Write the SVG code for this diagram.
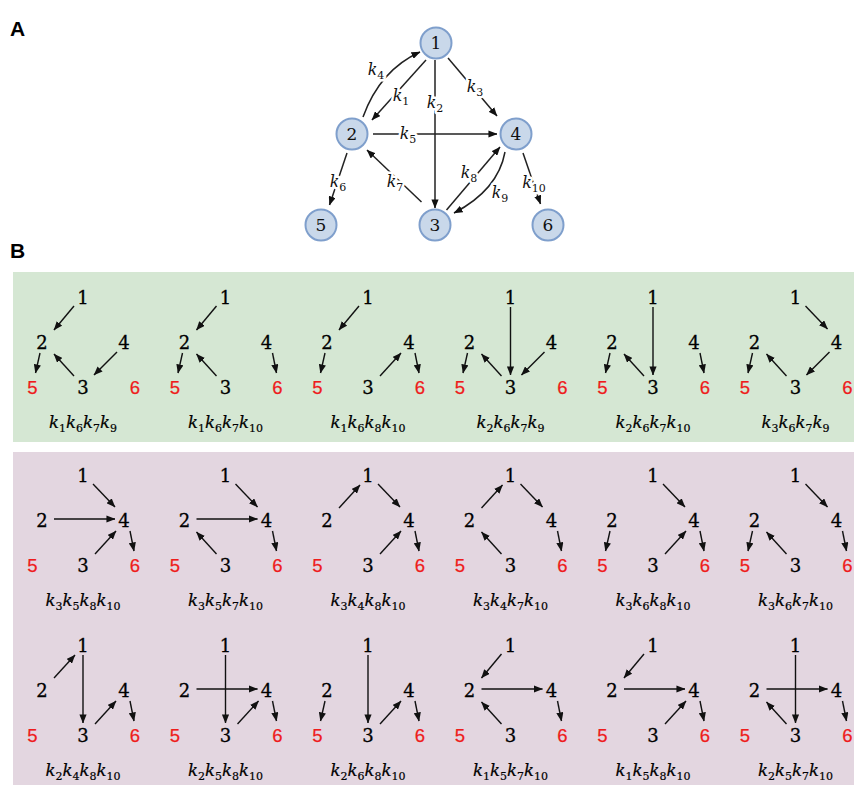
<svg xmlns="http://www.w3.org/2000/svg" width="854" height="785" viewBox="0 0 854 785">
<defs>
<marker id="ah" viewBox="0 0 10 8" refX="9.5" refY="4" markerWidth="9" markerHeight="7.2" markerUnits="userSpaceOnUse" orient="auto"><path d="M0,0 L10,4 L0,8 z" fill="#111"/></marker>
<style>
.n{font-family:"DejaVu Serif","Liberation Serif",serif;font-size:18px;text-anchor:middle;fill:#000;stroke:#000;stroke-width:0.3}
.r{font-family:"Liberation Sans",sans-serif;font-size:18.5px;text-anchor:middle;fill:#ee1c1c;stroke:#ee1c1c;stroke-width:0.25}
.k{font-family:"DejaVu Serif","Liberation Serif",serif;font-style:italic;font-size:16.5px;text-anchor:middle;fill:#000;stroke:#000;stroke-width:0.2}
.k .s{font-style:normal;font-size:11px}
.ka{font-family:"DejaVu Serif","Liberation Serif",serif;font-style:italic;font-size:16px;text-anchor:middle;fill:#111;stroke:#fff;stroke-width:5;paint-order:stroke;stroke-linejoin:round}
.ka .s{font-style:normal;font-size:11px}
.e{stroke:#111;stroke-width:1.4;fill:none;marker-end:url(#ah)}
.ea{stroke:#222;stroke-width:1.5;fill:none;marker-end:url(#ah)}
.c{fill:#c9d8ea;stroke:#7f9fcc;stroke-width:2}
.cn{font-family:"DejaVu Serif","Liberation Serif",serif;font-size:17px;text-anchor:middle;fill:#111}
.p{font-family:"Liberation Sans",sans-serif;font-weight:bold;font-size:21px;fill:#000}
</style>
</defs>
<rect width="854" height="785" fill="#fff"/>
<text class="p" x="10" y="36">A</text>
<text class="p" x="10" y="258">B</text>

<!-- Panel A connectors -->
<g id="edges-a">
<path class="ea" d="M363,117 Q380,70 420,52"/>
<line class="ea" x1="426" y1="60" x2="372" y2="120"/>
<line class="ea" x1="435" y1="60" x2="435" y2="208"/>
<line class="ea" x1="448" y1="58" x2="497" y2="116"/>
<line class="ea" x1="373" y1="134" x2="497" y2="134"/>
<line class="ea" x1="347" y1="153" x2="329.5" y2="205"/>
<line class="ea" x1="421.5" y1="202" x2="367" y2="150"/>
<line class="ea" x1="446.5" y1="210" x2="500" y2="147"/>
<path class="ea" d="M505,152 Q498,190 454,213"/>
<line class="ea" x1="523" y1="153" x2="540.5" y2="204"/>
<text class="ka" x="376" y="75">k<tspan class="s" dy="3.5">4</tspan></text>
<text class="ka" x="401" y="101">k<tspan class="s" dy="3.5">1</tspan></text>
<text class="ka" x="435" y="108">k<tspan class="s" dy="3.5">2</tspan></text>
<text class="ka" x="475" y="92">k<tspan class="s" dy="3.5">3</tspan></text>
<text class="ka" x="408" y="139">k<tspan class="s" dy="3.5">5</tspan></text>
<text class="ka" x="338" y="187">k<tspan class="s" dy="3.5">6</tspan></text>
<text class="ka" x="395" y="187">k<tspan class="s" dy="3.5">7</tspan></text>
<text class="ka" x="469" y="178">k<tspan class="s" dy="3.5">8</tspan></text>
<text class="ka" x="500" y="198">k<tspan class="s" dy="3.5">9</tspan></text>
<text class="ka" x="534" y="188">k<tspan class="s" dy="3.5">10</tspan></text>
</g>

<!-- Panel A nodes -->
<g id="node-1"><circle class="c" cx="436" cy="43" r="15.5"/><text class="cn" x="436" y="49">1</text></g>
<g id="node-2"><circle class="c" cx="352" cy="134" r="15.5"/><text class="cn" x="352" y="140">2</text></g>
<g id="node-4"><circle class="c" cx="516" cy="134" r="15.5"/><text class="cn" x="516" y="140">4</text></g>
<g id="node-5"><circle class="c" cx="321" cy="225" r="15.5"/><text class="cn" x="321" y="231">5</text></g>
<g id="node-3"><circle class="c" cx="435" cy="225" r="15.5"/><text class="cn" x="435" y="231">3</text></g>
<g id="node-6"><circle class="c" cx="548" cy="225" r="15.5"/><text class="cn" x="548" y="231">6</text></g>

<!-- Panel B backgrounds -->
<rect x="13" y="272" width="841" height="170" fill="#d5e7d3"/>
<rect x="13" y="452" width="841" height="333" fill="#e3d6e0"/>

<!-- Row 1 -->
<g id="b-r1c1" transform="translate(83,297)">
<g class="edges"><line class="e" x1="-9" y1="9" x2="-29" y2="33"/><line class="e" x1="-43" y1="56" x2="-47.5" y2="76"/><line class="e" x1="-9" y1="79" x2="-29" y2="57"/><line class="e" x1="34" y1="55" x2="11" y2="78"/></g>
<text class="n" x="0" y="6.5">1</text><text class="n" x="-41" y="51.5">2</text><text class="n" x="41" y="51.5">4</text><text class="n" x="0" y="96.5">3</text><text class="r" x="-50.5" y="96.5">5</text><text class="r" x="52" y="96.5">6</text>
<text class="k" x="0" y="131">k<tspan class="s" dy="4">1</tspan><tspan dy="-4">k</tspan><tspan class="s" dy="4">6</tspan><tspan dy="-4">k</tspan><tspan class="s" dy="4">7</tspan><tspan dy="-4">k</tspan><tspan class="s" dy="4">9</tspan></text>
</g>
<g id="b-r1c2" transform="translate(225.5,297)">
<g class="edges"><line class="e" x1="-9" y1="9" x2="-29" y2="33"/><line class="e" x1="-43" y1="56" x2="-47.5" y2="76"/><line class="e" x1="-9" y1="79" x2="-29" y2="57"/><line class="e" x1="47" y1="56" x2="51" y2="76"/></g>
<text class="n" x="0" y="6.5">1</text><text class="n" x="-41" y="51.5">2</text><text class="n" x="41" y="51.5">4</text><text class="n" x="0" y="96.5">3</text><text class="r" x="-50.5" y="96.5">5</text><text class="r" x="52" y="96.5">6</text>
<text class="k" x="0" y="131">k<tspan class="s" dy="4">1</tspan><tspan dy="-4">k</tspan><tspan class="s" dy="4">6</tspan><tspan dy="-4">k</tspan><tspan class="s" dy="4">7</tspan><tspan dy="-4">k</tspan><tspan class="s" dy="4">10</tspan></text>
</g>
<g id="b-r1c3" transform="translate(368,297)">
<g class="edges"><line class="e" x1="-9" y1="9" x2="-29" y2="33"/><line class="e" x1="-43" y1="56" x2="-47.5" y2="76"/><line class="e" x1="12" y1="79" x2="33" y2="56"/><line class="e" x1="47" y1="56" x2="51" y2="76"/></g>
<text class="n" x="0" y="6.5">1</text><text class="n" x="-41" y="51.5">2</text><text class="n" x="41" y="51.5">4</text><text class="n" x="0" y="96.5">3</text><text class="r" x="-50.5" y="96.5">5</text><text class="r" x="52" y="96.5">6</text>
<text class="k" x="0" y="131">k<tspan class="s" dy="4">1</tspan><tspan dy="-4">k</tspan><tspan class="s" dy="4">6</tspan><tspan dy="-4">k</tspan><tspan class="s" dy="4">8</tspan><tspan dy="-4">k</tspan><tspan class="s" dy="4">10</tspan></text>
</g>
<g id="b-r1c4" transform="translate(510.5,297)">
<g class="edges"><line class="e" x1="0" y1="10" x2="0" y2="78"/><line class="e" x1="-43" y1="56" x2="-47.5" y2="76"/><line class="e" x1="-9" y1="79" x2="-29" y2="57"/><line class="e" x1="34" y1="55" x2="11" y2="78"/></g>
<text class="n" x="0" y="6.5">1</text><text class="n" x="-41" y="51.5">2</text><text class="n" x="41" y="51.5">4</text><text class="n" x="0" y="96.5">3</text><text class="r" x="-50.5" y="96.5">5</text><text class="r" x="52" y="96.5">6</text>
<text class="k" x="0" y="131">k<tspan class="s" dy="4">2</tspan><tspan dy="-4">k</tspan><tspan class="s" dy="4">6</tspan><tspan dy="-4">k</tspan><tspan class="s" dy="4">7</tspan><tspan dy="-4">k</tspan><tspan class="s" dy="4">9</tspan></text>
</g>
<g id="b-r1c5" transform="translate(653,297)">
<g class="edges"><line class="e" x1="0" y1="10" x2="0" y2="78"/><line class="e" x1="-43" y1="56" x2="-47.5" y2="76"/><line class="e" x1="-9" y1="79" x2="-29" y2="57"/><line class="e" x1="47" y1="56" x2="51" y2="76"/></g>
<text class="n" x="0" y="6.5">1</text><text class="n" x="-41" y="51.5">2</text><text class="n" x="41" y="51.5">4</text><text class="n" x="0" y="96.5">3</text><text class="r" x="-50.5" y="96.5">5</text><text class="r" x="52" y="96.5">6</text>
<text class="k" x="0" y="131">k<tspan class="s" dy="4">2</tspan><tspan dy="-4">k</tspan><tspan class="s" dy="4">6</tspan><tspan dy="-4">k</tspan><tspan class="s" dy="4">7</tspan><tspan dy="-4">k</tspan><tspan class="s" dy="4">10</tspan></text>
</g>
<g id="b-r1c6" transform="translate(795.5,297)">
<g class="edges"><line class="e" x1="10" y1="9" x2="32" y2="32"/><line class="e" x1="-43" y1="56" x2="-47.5" y2="76"/><line class="e" x1="-9" y1="79" x2="-29" y2="57"/><line class="e" x1="34" y1="55" x2="11" y2="78"/></g>
<text class="n" x="0" y="6.5">1</text><text class="n" x="-41" y="51.5">2</text><text class="n" x="41" y="51.5">4</text><text class="n" x="0" y="96.5">3</text><text class="r" x="-50.5" y="96.5">5</text><text class="r" x="52" y="96.5">6</text>
<text class="k" x="0" y="131">k<tspan class="s" dy="4">3</tspan><tspan dy="-4">k</tspan><tspan class="s" dy="4">6</tspan><tspan dy="-4">k</tspan><tspan class="s" dy="4">7</tspan><tspan dy="-4">k</tspan><tspan class="s" dy="4">9</tspan></text>
</g>

<!-- Row 2 -->
<g id="b-r2c1" transform="translate(83,475)">
<g class="edges"><line class="e" x1="10" y1="9" x2="32" y2="32"/><line class="e" x1="-29" y1="44" x2="32" y2="44"/><line class="e" x1="12" y1="79" x2="33" y2="56"/><line class="e" x1="47" y1="56" x2="51" y2="76"/></g>
<text class="n" x="0" y="6.5">1</text><text class="n" x="-41" y="51.5">2</text><text class="n" x="41" y="51.5">4</text><text class="n" x="0" y="96.5">3</text><text class="r" x="-50.5" y="96.5">5</text><text class="r" x="52" y="96.5">6</text>
<text class="k" x="0" y="131">k<tspan class="s" dy="4">3</tspan><tspan dy="-4">k</tspan><tspan class="s" dy="4">5</tspan><tspan dy="-4">k</tspan><tspan class="s" dy="4">8</tspan><tspan dy="-4">k</tspan><tspan class="s" dy="4">10</tspan></text>
</g>
<g id="b-r2c2" transform="translate(225.5,475)">
<g class="edges"><line class="e" x1="10" y1="9" x2="32" y2="32"/><line class="e" x1="-29" y1="44" x2="32" y2="44"/><line class="e" x1="-9" y1="79" x2="-29" y2="57"/><line class="e" x1="47" y1="56" x2="51" y2="76"/></g>
<text class="n" x="0" y="6.5">1</text><text class="n" x="-41" y="51.5">2</text><text class="n" x="41" y="51.5">4</text><text class="n" x="0" y="96.5">3</text><text class="r" x="-50.5" y="96.5">5</text><text class="r" x="52" y="96.5">6</text>
<text class="k" x="0" y="131">k<tspan class="s" dy="4">3</tspan><tspan dy="-4">k</tspan><tspan class="s" dy="4">5</tspan><tspan dy="-4">k</tspan><tspan class="s" dy="4">7</tspan><tspan dy="-4">k</tspan><tspan class="s" dy="4">10</tspan></text>
</g>
<g id="b-r2c3" transform="translate(368,475)">
<g class="edges"><line class="e" x1="-29" y1="33" x2="-8" y2="10"/><line class="e" x1="10" y1="9" x2="32" y2="32"/><line class="e" x1="12" y1="79" x2="33" y2="56"/><line class="e" x1="47" y1="56" x2="51" y2="76"/></g>
<text class="n" x="0" y="6.5">1</text><text class="n" x="-41" y="51.5">2</text><text class="n" x="41" y="51.5">4</text><text class="n" x="0" y="96.5">3</text><text class="r" x="-50.5" y="96.5">5</text><text class="r" x="52" y="96.5">6</text>
<text class="k" x="0" y="131">k<tspan class="s" dy="4">3</tspan><tspan dy="-4">k</tspan><tspan class="s" dy="4">4</tspan><tspan dy="-4">k</tspan><tspan class="s" dy="4">8</tspan><tspan dy="-4">k</tspan><tspan class="s" dy="4">10</tspan></text>
</g>
<g id="b-r2c4" transform="translate(510.5,475)">
<g class="edges"><line class="e" x1="-29" y1="33" x2="-8" y2="10"/><line class="e" x1="10" y1="9" x2="32" y2="32"/><line class="e" x1="-9" y1="79" x2="-29" y2="57"/><line class="e" x1="47" y1="56" x2="51" y2="76"/></g>
<text class="n" x="0" y="6.5">1</text><text class="n" x="-41" y="51.5">2</text><text class="n" x="41" y="51.5">4</text><text class="n" x="0" y="96.5">3</text><text class="r" x="-50.5" y="96.5">5</text><text class="r" x="52" y="96.5">6</text>
<text class="k" x="0" y="131">k<tspan class="s" dy="4">3</tspan><tspan dy="-4">k</tspan><tspan class="s" dy="4">4</tspan><tspan dy="-4">k</tspan><tspan class="s" dy="4">7</tspan><tspan dy="-4">k</tspan><tspan class="s" dy="4">10</tspan></text>
</g>
<g id="b-r2c5" transform="translate(653,475)">
<g class="edges"><line class="e" x1="10" y1="9" x2="32" y2="32"/><line class="e" x1="-43" y1="56" x2="-47.5" y2="76"/><line class="e" x1="12" y1="79" x2="33" y2="56"/><line class="e" x1="47" y1="56" x2="51" y2="76"/></g>
<text class="n" x="0" y="6.5">1</text><text class="n" x="-41" y="51.5">2</text><text class="n" x="41" y="51.5">4</text><text class="n" x="0" y="96.5">3</text><text class="r" x="-50.5" y="96.5">5</text><text class="r" x="52" y="96.5">6</text>
<text class="k" x="0" y="131">k<tspan class="s" dy="4">3</tspan><tspan dy="-4">k</tspan><tspan class="s" dy="4">6</tspan><tspan dy="-4">k</tspan><tspan class="s" dy="4">8</tspan><tspan dy="-4">k</tspan><tspan class="s" dy="4">10</tspan></text>
</g>
<g id="b-r2c6" transform="translate(795.5,475)">
<g class="edges"><line class="e" x1="10" y1="9" x2="32" y2="32"/><line class="e" x1="-43" y1="56" x2="-47.5" y2="76"/><line class="e" x1="-9" y1="79" x2="-29" y2="57"/><line class="e" x1="47" y1="56" x2="51" y2="76"/></g>
<text class="n" x="0" y="6.5">1</text><text class="n" x="-41" y="51.5">2</text><text class="n" x="41" y="51.5">4</text><text class="n" x="0" y="96.5">3</text><text class="r" x="-50.5" y="96.5">5</text><text class="r" x="52" y="96.5">6</text>
<text class="k" x="0" y="131">k<tspan class="s" dy="4">3</tspan><tspan dy="-4">k</tspan><tspan class="s" dy="4">6</tspan><tspan dy="-4">k</tspan><tspan class="s" dy="4">7</tspan><tspan dy="-4">k</tspan><tspan class="s" dy="4">10</tspan></text>
</g>

<!-- Row 3 -->
<g id="b-r3c1" transform="translate(83,645)">
<g class="edges"><line class="e" x1="-29" y1="33" x2="-8" y2="10"/><line class="e" x1="0" y1="10" x2="0" y2="78"/><line class="e" x1="12" y1="79" x2="33" y2="56"/><line class="e" x1="47" y1="56" x2="51" y2="76"/></g>
<text class="n" x="0" y="6.5">1</text><text class="n" x="-41" y="51.5">2</text><text class="n" x="41" y="51.5">4</text><text class="n" x="0" y="96.5">3</text><text class="r" x="-50.5" y="96.5">5</text><text class="r" x="52" y="96.5">6</text>
<text class="k" x="0" y="131">k<tspan class="s" dy="4">2</tspan><tspan dy="-4">k</tspan><tspan class="s" dy="4">4</tspan><tspan dy="-4">k</tspan><tspan class="s" dy="4">8</tspan><tspan dy="-4">k</tspan><tspan class="s" dy="4">10</tspan></text>
</g>
<g id="b-r3c2" transform="translate(225.5,645)">
<g class="edges"><line class="e" x1="0" y1="10" x2="0" y2="78"/><line class="e" x1="-29" y1="44" x2="32" y2="44"/><line class="e" x1="12" y1="79" x2="33" y2="56"/><line class="e" x1="47" y1="56" x2="51" y2="76"/></g>
<text class="n" x="0" y="6.5">1</text><text class="n" x="-41" y="51.5">2</text><text class="n" x="41" y="51.5">4</text><text class="n" x="0" y="96.5">3</text><text class="r" x="-50.5" y="96.5">5</text><text class="r" x="52" y="96.5">6</text>
<text class="k" x="0" y="131">k<tspan class="s" dy="4">2</tspan><tspan dy="-4">k</tspan><tspan class="s" dy="4">5</tspan><tspan dy="-4">k</tspan><tspan class="s" dy="4">8</tspan><tspan dy="-4">k</tspan><tspan class="s" dy="4">10</tspan></text>
</g>
<g id="b-r3c3" transform="translate(368,645)">
<g class="edges"><line class="e" x1="-43" y1="56" x2="-47.5" y2="76"/><line class="e" x1="0" y1="10" x2="0" y2="78"/><line class="e" x1="12" y1="79" x2="33" y2="56"/><line class="e" x1="47" y1="56" x2="51" y2="76"/></g>
<text class="n" x="0" y="6.5">1</text><text class="n" x="-41" y="51.5">2</text><text class="n" x="41" y="51.5">4</text><text class="n" x="0" y="96.5">3</text><text class="r" x="-50.5" y="96.5">5</text><text class="r" x="52" y="96.5">6</text>
<text class="k" x="0" y="131">k<tspan class="s" dy="4">2</tspan><tspan dy="-4">k</tspan><tspan class="s" dy="4">6</tspan><tspan dy="-4">k</tspan><tspan class="s" dy="4">8</tspan><tspan dy="-4">k</tspan><tspan class="s" dy="4">10</tspan></text>
</g>
<g id="b-r3c4" transform="translate(510.5,645)">
<g class="edges"><line class="e" x1="-9" y1="9" x2="-29" y2="33"/><line class="e" x1="-29" y1="44" x2="32" y2="44"/><line class="e" x1="-9" y1="79" x2="-29" y2="57"/><line class="e" x1="47" y1="56" x2="51" y2="76"/></g>
<text class="n" x="0" y="6.5">1</text><text class="n" x="-41" y="51.5">2</text><text class="n" x="41" y="51.5">4</text><text class="n" x="0" y="96.5">3</text><text class="r" x="-50.5" y="96.5">5</text><text class="r" x="52" y="96.5">6</text>
<text class="k" x="0" y="131">k<tspan class="s" dy="4">1</tspan><tspan dy="-4">k</tspan><tspan class="s" dy="4">5</tspan><tspan dy="-4">k</tspan><tspan class="s" dy="4">7</tspan><tspan dy="-4">k</tspan><tspan class="s" dy="4">10</tspan></text>
</g>
<g id="b-r3c5" transform="translate(653,645)">
<g class="edges"><line class="e" x1="-9" y1="9" x2="-29" y2="33"/><line class="e" x1="-29" y1="44" x2="32" y2="44"/><line class="e" x1="12" y1="79" x2="33" y2="56"/><line class="e" x1="47" y1="56" x2="51" y2="76"/></g>
<text class="n" x="0" y="6.5">1</text><text class="n" x="-41" y="51.5">2</text><text class="n" x="41" y="51.5">4</text><text class="n" x="0" y="96.5">3</text><text class="r" x="-50.5" y="96.5">5</text><text class="r" x="52" y="96.5">6</text>
<text class="k" x="0" y="131">k<tspan class="s" dy="4">1</tspan><tspan dy="-4">k</tspan><tspan class="s" dy="4">5</tspan><tspan dy="-4">k</tspan><tspan class="s" dy="4">8</tspan><tspan dy="-4">k</tspan><tspan class="s" dy="4">10</tspan></text>
</g>
<g id="b-r3c6" transform="translate(795.5,645)">
<g class="edges"><line class="e" x1="0" y1="10" x2="0" y2="78"/><line class="e" x1="-29" y1="44" x2="32" y2="44"/><line class="e" x1="-9" y1="79" x2="-29" y2="57"/><line class="e" x1="47" y1="56" x2="51" y2="76"/></g>
<text class="n" x="0" y="6.5">1</text><text class="n" x="-41" y="51.5">2</text><text class="n" x="41" y="51.5">4</text><text class="n" x="0" y="96.5">3</text><text class="r" x="-50.5" y="96.5">5</text><text class="r" x="52" y="96.5">6</text>
<text class="k" x="0" y="131">k<tspan class="s" dy="4">2</tspan><tspan dy="-4">k</tspan><tspan class="s" dy="4">5</tspan><tspan dy="-4">k</tspan><tspan class="s" dy="4">7</tspan><tspan dy="-4">k</tspan><tspan class="s" dy="4">10</tspan></text>
</g>
</svg>
